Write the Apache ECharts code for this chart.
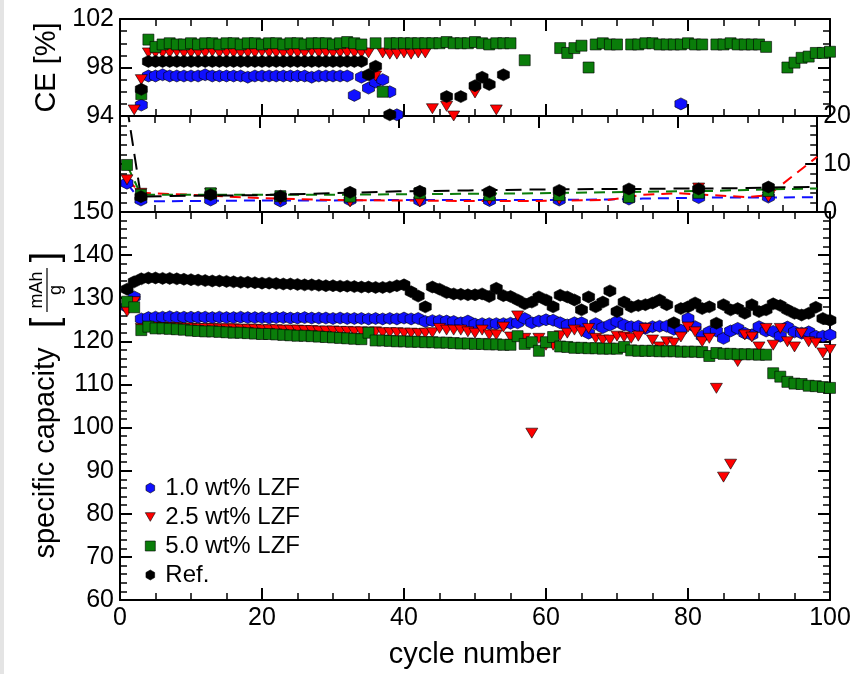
<!DOCTYPE html>
<html>
<head>
<meta charset="utf-8">
<title>CE, overpotential and specific capacity vs cycle number</title>
<script src="https://cdn.jsdelivr.net/npm/echarts@6/dist/echarts.min.js"></script>
<style>
html, body { margin: 0; padding: 0; background: #fff; }
#chart { width: 854px; height: 674px; }
</style>
</head>
<body>
<div id="chart"></div>
<script>
// legend names
const names = ['1.0 wt% LZF', '2.5 wt% LZF', '5.0 wt% LZF', 'Ref.']

// x ticks
const xTicks = [0, 20, 40, 60, 80, 100]

// coulombic efficiency [%], one value per cycle (1..100), null = not visible
const ceBlue = [null,null,94.9,97.3,97.3,97.4,97.3,97.3,97.3,97.3,97.3,97.4,97.3,97.3,97.3,97.3,97.3,97.2,97.3,97.3,
  97.3,97.3,97.3,97.3,97.3,97.3,97.2,97.3,97.3,97.3,97.3,97.3,95.7,97.2,96.3,96.8,97.0,96.0,94.1,null,
  null,null,null,null,null,null,null,null,null,null,null,null,null,null,null,null,null,null,null,null,
  null,null,null,null,null,null,null,null,null,null,null,null,null,null,null,null,null,null,95.0,null,
  null,null,null,null,null,null,null,null,null,null,null,null,null,null,null,null,null,null,null,null]
const ceRed = [null,94.5,97.0,99.2,99.2,99.2,99.2,99.3,99.2,99.2,99.2,99.2,99.3,99.2,99.2,99.2,99.2,99.2,99.2,99.3,
  99.2,99.2,99.2,99.2,99.2,99.2,99.3,99.2,99.2,99.2,99.2,99.2,99.2,99.2,99.2,97.3,99.2,99.1,99.1,99.2,
  99.1,99.2,99.2,94.6,null,94.8,94.0,null,null,95.9,null,null,94.5,null,null,null,null,null,null,null,
  null,null,null,null,null,null,null,null,null,null,null,null,null,null,null,null,null,null,null,null,
  null,null,null,null,null,null,null,null,null,null,null,null,null,null,null,null,null,null,null,null]
const ceGreen = [null,null,95.8,100.3,99.7,99.9,100.0,99.9,99.9,100.0,99.9,100.0,100.0,99.9,100.0,100.0,99.9,100.0,100.0,99.9,
  100.0,100.0,99.9,100.0,100.0,99.9,100.0,100.0,100.0,99.9,100.0,100.1,100.0,99.9,null,100.0,96.0,100.0,100.0,100.0,
  100.0,100.0,100.0,100.0,100.0,100.1,100.0,100.0,100.0,100.1,100.0,99.9,100.0,100.0,100.0,null,98.6,null,null,null,
  null,99.6,99.2,99.6,99.8,98.0,99.9,100.0,99.9,99.9,null,99.9,99.9,100.0,100.0,99.9,99.9,99.9,99.9,100.0,
  99.9,99.9,null,99.9,99.9,100.0,99.9,99.9,99.9,99.9,99.7,null,null,98.0,98.4,98.8,98.9,99.2,99.2,99.3]
const ceBlack = [null,null,96.2,98.5,98.5,98.5,98.5,98.5,98.5,98.5,98.5,98.5,98.5,98.5,98.5,98.5,98.5,98.5,98.5,98.5,
  98.5,98.5,98.5,98.5,98.5,98.5,98.5,98.5,98.5,98.5,98.5,98.5,98.5,98.5,97.4,98.1,null,94.1,null,null,
  null,null,null,null,null,95.6,null,95.6,null,96.5,97.2,96.6,null,97.4,null,null,null,null,null,null,
  null,null,null,null,null,null,null,null,null,null,null,null,null,null,null,null,null,null,null,null,
  null,null,null,null,null,null,null,null,null,null,null,null,null,null,null,null,null,null,null,null]

// middle panel (right axis 0..20): markers every 10 cycles, dashed trend lines
const midCycles = [1, 3, 13, 23, 33, 43, 53, 63, 73, 83, 93]
const midBlue = [6.0, 2.5, 2.5, 2.3, 2.5, 2.4, 2.4, 2.5, 2.7, 3.0, 3.1]
const midRed = [6.7, 3.9, 3.9, 2.6, 2.1, 2.1, 2.5, 2.6, 3.4, 5.0, 3.1]
const midGreen = [9.8, 3.6, 3.9, 3.3, 3.2, 3.9, 3.5, 3.5, 3.1, 4.0, 4.4]
const midBlack = [22.0, 3.2, 3.6, 3.3, 4.1, 4.3, 4.2, 4.5, 4.8, 4.8, 5.2]
const lineCycles = [1, 3, 10, 20, 30, 40, 50, 60, 70, 75, 80, 85, 90, 93, 100]
const lineBlue = [6.0, 2.2, 2.3, 2.4, 2.4, 2.5, 2.5, 2.5, 2.6, 2.8, 2.9, 3.0, 3.0, 3.0, 3.1]
const lineRed = [6.7, 4.0, 3.6, 2.9, 2.5, 2.4, 2.3, 2.3, 2.5, 3.6, 3.9, 3.5, 3.1, 3.5, 11.5]
const lineGreen = [9.8, 3.6, 3.6, 3.6, 3.6, 3.7, 3.8, 3.9, 4.1, 4.2, 4.3, 4.4, 4.6, 4.7, 4.9]
const lineBlack = [22.0, 3.2, 3.4, 3.5, 3.9, 4.3, 4.5, 4.7, 4.8, 4.8, 4.9, 4.9, 5.0, 5.1, 5.2]

// specific capacity [mAh/g], one value per cycle (1..100)
const capBlue = [128.0,130.3,125.2,125.5,125.6,125.6,125.7,125.6,125.6,125.6,125.6,125.6,125.5,125.6,125.5,125.5,125.6,125.5,125.5,125.5,
  125.4,125.5,125.5,125.4,125.4,125.5,125.4,125.4,125.4,125.3,125.4,125.3,125.3,125.3,125.2,125.3,125.2,125.3,125.2,125.4,
  125.2,125.3,124.6,124.8,124.8,124.7,124.6,124.3,124.7,124.0,124.1,124.1,124.1,124.1,124.2,124.3,125.3,124.3,124.7,125.0,
  124.9,124.3,123.8,124.3,124.3,121.9,124.1,123.2,123.8,124.6,123.8,123.4,123.5,123.0,123.4,123.5,123.5,122.8,122.6,125.3,
  123.4,121.2,122.2,122.4,120.7,122.4,123.0,121.9,121.5,123.4,122.4,122.3,121.2,123.3,122.2,121.9,122.2,121.2,121.2,121.5]
const capRed = [126.9,129.2,123.0,123.3,123.3,123.2,123.2,123.2,123.1,123.1,123.0,123.0,123.0,122.9,122.9,122.9,122.8,122.8,122.8,122.7,
  122.7,122.7,122.6,122.6,122.6,122.5,122.5,122.4,122.4,122.4,122.3,122.3,122.2,122.2,122.1,122.2,122.0,122.0,122.0,121.9,
  121.9,121.8,121.9,122.0,123.0,122.6,122.6,122.6,122.2,121.9,122.6,121.5,121.5,123.3,121.0,125.9,120.7,98.7,120.7,119.1,
  119.1,121.3,121.9,122.6,122.2,123.0,120.7,120.3,120.3,121.2,121.0,120.7,121.2,123.0,120.3,118.7,119.9,119.6,121.0,123.3,
  122.2,119.9,120.7,109.1,88.5,91.5,115.3,121.5,121.0,118.7,123.0,119.1,123.0,119.9,118.7,121.9,119.9,119.6,117.3,118.1]
const capGreen = [129.2,127.9,122.6,123.4,123.0,123.0,122.9,122.8,122.7,122.5,122.4,122.3,122.3,122.2,122.1,122.0,122.0,121.9,121.8,121.7,
  121.7,121.6,121.5,121.4,121.3,121.3,121.2,121.1,121.0,120.9,120.8,120.7,120.6,120.5,122.0,120.2,120.2,120.1,120.0,120.0,
  119.9,119.9,119.8,119.8,119.7,119.7,119.6,119.5,119.5,119.4,119.4,119.3,119.3,119.2,119.2,121.2,119.4,119.8,117.8,119.8,
  121.0,118.8,118.7,118.5,118.5,118.4,118.4,118.3,118.3,118.3,118.7,117.9,117.8,117.8,117.8,117.7,117.7,117.7,117.6,117.6,
  117.6,117.5,116.6,117.3,117.1,117.1,117.0,117.0,117.0,116.9,116.9,112.6,111.8,110.6,110.2,110.1,109.7,109.6,109.4,109.2]
const capBlack = [132.1,133.8,134.5,134.7,134.7,134.6,134.6,134.5,134.4,134.3,134.2,134.1,134.0,134.0,133.9,133.8,133.7,133.7,133.6,133.5,
  133.5,133.4,133.3,133.3,133.2,133.1,133.1,133.0,132.9,132.9,132.8,132.8,132.7,132.6,132.6,132.5,132.5,132.6,132.9,133.1,
  131.5,130.5,128.0,132.6,132.1,131.3,131.0,130.9,130.8,130.8,131.0,130.4,132.3,130.6,130.4,129.6,128.7,129.1,130.3,129.6,
  128.0,130.7,130.3,129.6,127.3,130.3,128.0,129.1,131.7,126.9,129.1,128.0,128.3,128.5,128.9,129.6,128.5,124.3,127.6,128.0,
  128.9,127.6,128.0,124.2,128.5,127.3,127.6,126.5,128.5,126.9,127.3,128.7,128.3,127.3,126.5,126.1,126.5,127.9,125.3,124.9]

const FONT = '"Liberation Sans", Arial, sans-serif'
const HEX = 'path://M5,0 L9.33,2.5 L9.33,7.5 L5,10 L0.67,7.5 L0.67,2.5 Z'
const TRI = 'path://M0,0 L10,0 L5,8.66 Z'

const styles = [
    { color: '#1010ff', symbol: HEX, size: 12, dash: [11, 7] },
    { color: '#ff0000', symbol: TRI, size: [12, 10], dash: [11, 7] },
    { color: '#0a7d0a', symbol: 'rect', size: 11, dash: [11, 7] },
    { color: '#000000', symbol: HEX, size: 12, dash: [16, 8] }
]

function pairs(arr){
    let out = []
    for (let i in arr){
        if (arr[i] != null) out.push([parseInt(i) + 1, arr[i]])
    }
    return out
}
function zip(xs, ys){
    return xs.map((x, i) => [x, ys[i]])
}

function xAxis(grid, pos, showLabel, name){
    return {
        type: 'value', gridIndex: grid, position: pos, min: 0, max: 100, interval: 20,
        axisLine: { show: true, onZero: false, lineStyle: { color: '#000', width: 2 } },
        axisTick: { show: true, inside: true, length: 12, lineStyle: { color: '#000', width: 2 } },
        minorTick: { show: true, splitNumber: 4, length: 7, lineStyle: { color: '#000', width: 1.5 } },
        splitLine: { show: false },
        axisLabel: { show: showLabel, color: '#000', fontSize: 25, fontFamily: FONT, margin: 6,
            formatter: v => xTicks.includes(v) ? String(v) : '' },
        name: name || '', nameLocation: 'middle', nameGap: 40,
        nameTextStyle: { color: '#000', fontSize: 29, fontFamily: FONT }
    }
}
function yAxis(grid, pos, min, max, interval, minor, showLabel, name){
    return {
        type: 'value', gridIndex: grid, position: pos, min: min, max: max, interval: interval,
        axisLine: { show: true, onZero: false, lineStyle: { color: '#000', width: 2 } },
        axisTick: { show: true, inside: true, length: 12, lineStyle: { color: '#000', width: 2 } },
        minorTick: { show: true, splitNumber: minor, length: 7, lineStyle: { color: '#000', width: 1.5 } },
        splitLine: { show: false },
        axisLabel: { show: showLabel, color: '#000', fontSize: 25, fontFamily: FONT, margin: 6 },
        name: name || '', nameLocation: 'middle', nameRotate: 90, nameGap: 58,
        nameTextStyle: { color: '#000', fontSize: 29, fontFamily: FONT }
    }
}

let series = []
const lineSets = [lineBlue, lineRed, lineGreen, lineBlack]
const midSets = [midBlue, midRed, midGreen, midBlack]
const ceSets = [ceBlue, ceRed, ceGreen, ceBlack]
const capSets = [capBlue, capRed, capGreen, capBlack]
for (let k = 0; k < 4; k++){
    const s = styles[k]
    const item = { color: s.color, borderColor: '#000', borderWidth: 0.6, opacity: 1 }
    series.push({ name: names[k], type: 'scatter', xAxisIndex: 4, yAxisIndex: 4, clip: true,
        symbol: s.symbol, symbolSize: s.size, itemStyle: item, data: pairs(capSets[k]) })
    series.push({ name: names[k], type: 'scatter', xAxisIndex: 0, yAxisIndex: 0, clip: true,
        symbol: s.symbol, symbolSize: s.size, itemStyle: item, data: pairs(ceSets[k]) })
    // dashed trend line in the middle panel
    series.push({
        name: names[k], type: 'line', xAxisIndex: 2, yAxisIndex: 3,
        showSymbol: false, clip: true, z: 1,
        itemStyle: { color: s.color },
        lineStyle: { color: s.color, width: 2, type: s.dash },
        data: zip(lineCycles, lineSets[k])
    })
    series.push({ name: names[k], type: 'scatter', xAxisIndex: 2, yAxisIndex: 3, clip: true,
        symbol: s.symbol, symbolSize: s.size, itemStyle: item, data: zip(midCycles, midSets[k]) })
}

let chart = echarts.init(document.getElementById('chart'), null, { renderer: 'canvas' })
let option = {
    backgroundColor: '#fff',
    animation: false,
    grid: [
        { left: 120, width: 710, top: 19, height: 97 },
        { left: 120, width: 710, top: 116, height: 96 },
        { left: 120, width: 710, top: 212, height: 388 }
    ],
    xAxis: [
        xAxis(0, 'bottom', false),
        xAxis(0, 'top', false),
        xAxis(1, 'bottom', false),
        xAxis(1, 'top', false),
        xAxis(2, 'bottom', true, 'cycle number'),
        xAxis(2, 'top', false)
    ],
    yAxis: [
        yAxis(0, 'left', 94, 102, 4, 4, true, 'CE [%]'),
        yAxis(0, 'right', 94, 102, 4, 4, false),
        yAxis(1, 'left', 0, 20, 10, 5, false),
        yAxis(1, 'right', 0, 20, 10, 5, true),
        yAxis(2, 'left', 60, 150, 10, 5, true),
        yAxis(2, 'right', 60, 150, 10, 5, false)
    ],
    legend: {
        orient: 'vertical', left: 140, top: 471,
        itemWidth: 10, itemHeight: 10, itemGap: 5,
        textStyle: { color: '#000', fontSize: 24, fontFamily: FONT, lineHeight: 23, padding: [0, 0, 0, 5] },
        data: names.map((n, k) => ({
            name: n, icon: styles[k].symbol,
            itemStyle: { color: styles[k].color, borderColor: '#000', borderWidth: 0.6, opacity: 1 }
        }))
    },
    graphic: [
        { type: 'rect', x: 0, y: 0, shape: { x: 0, y: 0, width: 4, height: 674 }, style: { fill: '#e4e4e4' } },
        { type: 'text', x: 46, y: 453, rotation: Math.PI / 2,
          style: { text: 'specific capacity', font: '29px ' + FONT, fill: '#000', align: 'center', verticalAlign: 'middle' } },
        { type: 'group', x: 46, y: 290, rotation: Math.PI / 2, children: [
            { type: 'text', x: 0, y: -9, style: { text: 'mAh', font: '18px ' + FONT, fill: '#000', align: 'center', verticalAlign: 'middle' } },
            { type: 'line', shape: { x1: -22, y1: 1, x2: 22, y2: 1 }, style: { stroke: '#000', lineWidth: 1.2 } },
            { type: 'text', x: 0, y: 10, style: { text: 'g', font: '18px ' + FONT, fill: '#000', align: 'center', verticalAlign: 'middle' } },
            { type: 'text', x: -33, y: 1, style: { text: '[', font: '38px ' + FONT, fill: '#000', align: 'center', verticalAlign: 'middle' } },
            { type: 'text', x: 33, y: 1, style: { text: ']', font: '38px ' + FONT, fill: '#000', align: 'center', verticalAlign: 'middle' } }
        ] }
    ],
    series: series
}
chart.setOption(option)
window.addEventListener('resize', () => chart.resize())
</script>
</body>
</html>
